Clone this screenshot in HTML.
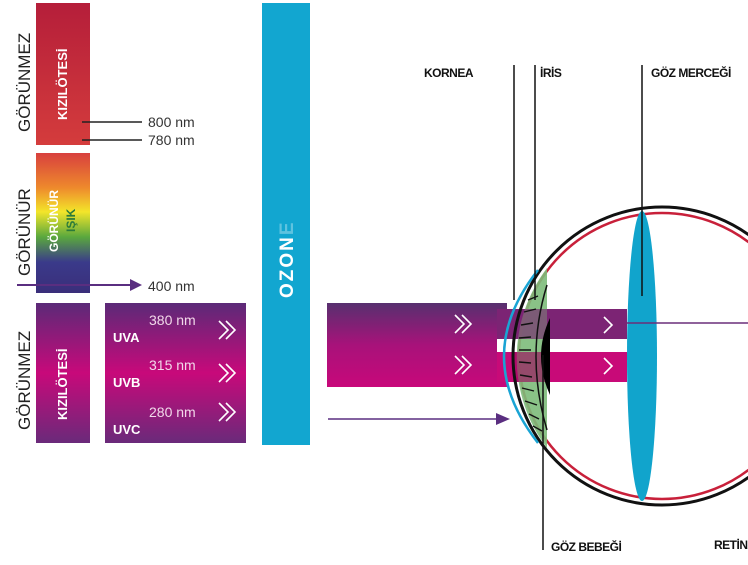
<!DOCTYPE html>
<html><head><meta charset="utf-8"><style>
html,body{margin:0;padding:0;background:#fff;width:748px;height:565px;overflow:hidden}
svg{display:block}
text{font-family:"Liberation Sans",sans-serif}
</style></head><body>
<svg width="748" height="565" viewBox="0 0 748 565" xmlns="http://www.w3.org/2000/svg">
<defs>
<linearGradient id="red" x1="0" y1="0" x2="0" y2="1"><stop offset="0" stop-color="#b51e3a"/><stop offset="1" stop-color="#d43c3c"/></linearGradient>
<linearGradient id="rain" x1="0" y1="0" x2="0" y2="1">
<stop offset="0" stop-color="#d8403e"/><stop offset="0.25" stop-color="#ee8a2c"/><stop offset="0.42" stop-color="#f3e52a"/><stop offset="0.6" stop-color="#5aa83e"/><stop offset="0.78" stop-color="#3a3a8a"/><stop offset="1" stop-color="#3a2e7a"/></linearGradient>
<linearGradient id="uv" x1="0" y1="0" x2="0" y2="1">
<stop offset="0" stop-color="#5b2a78"/><stop offset="0.5" stop-color="#c8097a"/><stop offset="1" stop-color="#6a2a7a"/></linearGradient>
<linearGradient id="beam" x1="0" y1="0" x2="0" y2="1">
<stop offset="0" stop-color="#57306f"/><stop offset="0.5" stop-color="#a8127a"/><stop offset="1" stop-color="#c8087a"/></linearGradient>
</defs>

<!-- left labels -->
<text transform="translate(30,132) rotate(-90)" font-size="17" fill="#222">GÖRÜNMEZ</text>
<text transform="translate(30,276) rotate(-90)" font-size="17" fill="#222">GÖRÜNÜR</text>
<text transform="translate(30,430) rotate(-90)" font-size="17" fill="#222">GÖRÜNMEZ</text>

<rect x="36" y="3" width="54" height="142" fill="url(#red)"/>
<text transform="translate(67,120) rotate(-90)" font-size="13" font-weight="bold" fill="#fff">KIZILÖTESİ</text>
<line x1="82" y1="122" x2="142" y2="122" stroke="#222" stroke-width="1.5"/>
<line x1="82" y1="140" x2="142" y2="140" stroke="#222" stroke-width="1.5"/>
<text x="148" y="127" font-size="14" fill="#333">800 nm</text>
<text x="148" y="145" font-size="14" fill="#333">780 nm</text>

<rect x="36" y="153" width="54" height="140" fill="url(#rain)"/>
<text transform="translate(58,252) rotate(-90)" font-size="12" font-weight="bold" fill="#fff">GÖRÜNÜR</text>
<text transform="translate(75,232) rotate(-90)" font-size="12" font-weight="bold" fill="#2a7a3a">IŞIK</text>
<line x1="17" y1="285" x2="132" y2="285" stroke="#5a2e80" stroke-width="2"/>
<polygon points="130,279 142,285 130,291" fill="#5a2e80"/>
<text x="148" y="291" font-size="14" fill="#333">400 nm</text>

<rect x="36" y="303" width="54" height="140" fill="url(#uv)"/>
<text transform="translate(67,420) rotate(-90)" font-size="13" font-weight="bold" fill="#fff">KIZILÖTESİ</text>

<rect x="105" y="303" width="141" height="140" fill="url(#uv)"/>
<g font-size="14" fill="#f2d8ea"><text x="149" y="325">380 nm</text><text x="149" y="370">315 nm</text><text x="149" y="417">280 nm</text></g>
<g font-size="13" font-weight="bold" fill="#fff"><text x="113" y="342">UVA</text><text x="113" y="387">UVB</text><text x="113" y="434">UVC</text></g>
<g fill="none" stroke="#fff" stroke-width="1.6">
<path d="M219,321 l9,9 l-9,9 M226,321 l9,9 l-9,9"/>
<path d="M219,364 l9,9 l-9,9 M226,364 l9,9 l-9,9"/>
<path d="M219,403 l9,9 l-9,9 M226,403 l9,9 l-9,9"/>
</g>

<!-- ozone -->
<rect x="262" y="3" width="48" height="442" fill="#12a6d0"/>
<text transform="translate(293,298) rotate(-90)" font-size="19" font-weight="bold" fill="#fff" letter-spacing="2">OZON<tspan fill="#5fc3df">E</tspan></text>

<!-- beam -->
<rect x="327" y="303" width="180" height="84" fill="url(#beam)"/>
<rect x="497" y="309" width="130" height="30" fill="#7c2474"/>
<rect x="497" y="352" width="130" height="30" fill="#c80a78"/>
<rect x="497" y="339" width="50" height="13" fill="#fff"/>
<g fill="none" stroke="#fff" stroke-width="1.6">
<path d="M455,315 l9,9 l-9,9 M462,315 l9,9 l-9,9"/>
<path d="M455,356 l9,9 l-9,9 M462,356 l9,9 l-9,9"/>
<path d="M604,317 l8,8 l-8,8"/>
<path d="M604,358 l8,8 l-8,8"/>
</g>
<line x1="328" y1="419" x2="498" y2="419" stroke="#5a2e80" stroke-width="1.5"/>
<polygon points="496,413 510,419 496,425" fill="#5a2e80"/>

<!-- eye -->
<circle cx="662" cy="356" r="143" fill="none" stroke="#c8203a" stroke-width="2.5"/>
<path d="M547,268 A149,149 0 0 0 547,448 Z" fill="#7dbb7a" opacity="0.9"/>
<rect x="513" y="309" width="34" height="30" fill="#7c2474" opacity="0.6"/>
<rect x="513" y="352" width="34" height="30" fill="#a00a60" opacity="0.6"/>
<circle cx="662" cy="356" r="149" fill="none" stroke="#111" stroke-width="3"/>
<path d="M547,285 Q525,356 547,430" fill="none" stroke="#111" stroke-width="1.5"/>
<g stroke="#111" stroke-width="1.4">
<path d="M528,300 l10,-4 M524,312 l12,-3 M521,325 l12,-2 M519,338 l12,-1 M519,350 l12,0 M519,362 l12,1 M520,375 l12,2 M522,388 l12,3 M525,401 l12,4 M529,414 l10,5 M533,426 l9,5"/>
</g>
<path d="M550,318 Q532,356 550,395 Z" fill="#000"/>
<path d="M538,270 Q470,356 538,443" fill="none" stroke="#1aa4d4" stroke-width="2.5"/>
<ellipse cx="642" cy="356" rx="15" ry="145" fill="#11a4cc"/>
<line x1="627" y1="323" x2="748" y2="323" stroke="#6a2e7a" stroke-width="1.5"/>

<!-- pointer lines -->
<g stroke="#111" stroke-width="1.5">
<line x1="514" y1="65" x2="514" y2="300"/>
<line x1="535" y1="65" x2="535" y2="300"/>
<line x1="642" y1="65" x2="642" y2="296"/>
<line x1="543" y1="355" x2="543" y2="550"/>
</g>
<g font-size="12" font-weight="bold" fill="#111" letter-spacing="-0.5">
<text x="424" y="77">KORNEA</text>
<text x="540" y="77">İRİS</text>
<text x="651" y="77">GÖZ MERCEĞİ</text>
<text x="551" y="551">GÖZ BEBEĞİ</text>
<text x="714" y="549">RETİNA</text>
</g>
</svg>
</body></html>
